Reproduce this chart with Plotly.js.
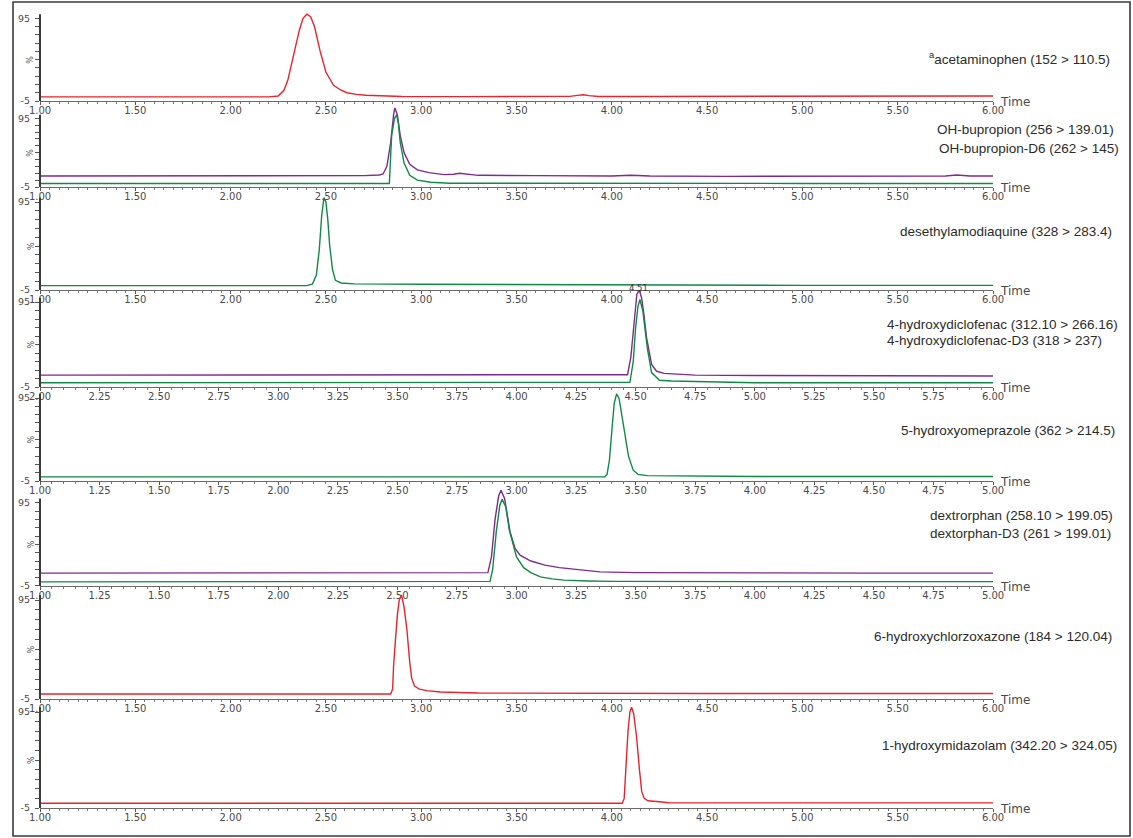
<!DOCTYPE html>
<html>
<head>
<meta charset="utf-8">
<script src="https://cdn.plot.ly/plotly-3.0.1.min.js"></script>
<style>
html,body{margin:0;padding:0;background:#fff;}
#chart{width:1133px;height:838px;}
</style>
</head>
<body>
<div id="chart"></div>
<script>
// ---------------- DATA ----------------
// Panel labels (compound, MRM transition)
const panelLabels = [
  ["<sup>a</sup>acetaminophen (152 > 110.5)"],
  ["OH-bupropion (256 > 139.01)", "OH-bupropion-D6 (262 > 145)"],
  ["desethylamodiaquine (328 > 283.4)"],
  ["4-hydroxydiclofenac (312.10 > 266.16)", "4-hydroxydiclofenac-D3 (318 > 237)"],
  ["5-hydroxyomeprazole (362 > 214.5)"],
  ["dextrorphan (258.10 > 199.05)", "dextorphan-D3 (261 > 199.01)"],
  ["6-hydroxychlorzoxazone (184 > 120.04)"],
  ["1-hydroxymidazolam (342.20 > 324.05)"]
];

// Tick labels
const xTickVals1to6 = [1.0,1.5,2.0,2.5,3.0,3.5,4.0,4.5,5.0,5.5,6.0];
const xTickText1to6 = ["1.00","1.50","2.00","2.50","3.00","3.50","4.00","4.50","5.00","5.50","6.00"];
const xTickVals2to6 = [2.0,2.25,2.5,2.75,3.0,3.25,3.5,3.75,4.0,4.25,4.5,4.75,5.0,5.25,5.5,5.75,6.0];
const xTickText2to6 = ["2.00","2.25","2.50","2.75","3.00","3.25","3.50","3.75","4.00","4.25","4.50","4.75","5.00","5.25","5.50","5.75","6.00"];
const xTickVals1to5 = [1.0,1.25,1.5,1.75,2.0,2.25,2.5,2.75,3.0,3.25,3.5,3.75,4.0,4.25,4.5,4.75,5.0];
const xTickText1to5 = ["1.00","1.25","1.50","1.75","2.00","2.25","2.50","2.75","3.00","3.25","3.50","3.75","4.00","4.25","4.50","4.75","5.00"];
const yTickVals = [-5,5,15,25,35,45,55,65,75,85,95];
const yTickText = ["-5"," "," "," "," "," "," "," "," "," ","95"];

// Panel 1: acetaminophen
const acetTime = [1.00,1.50,2.00,2.20,2.25,2.28,2.30,2.33,2.36,2.38,2.40,2.42,2.44,2.47,2.50,2.54,2.58,2.61,2.66,2.71,2.80,2.90,3.20,3.60,3.78,3.82,3.85,3.88,3.93,4.20,4.60,5.00,5.40,5.80,6.00];
const acetInt  = [0,0,0,0,1,8,20,50,80,95,100,97,85,55,30,14,8,5,3,2,1,0.5,0.3,0.3,0.6,1.8,2.5,1.5,0.5,0.5,0.8,1,1.2,1,1];

// Panel 2: OH-bupropion (purple) and OH-bupropion-D6 (green)
const ohbupTime = [1.00,1.50,2.00,2.50,2.70,2.78,2.80,2.82,2.84,2.855,2.862,2.875,2.89,2.91,2.94,2.98,3.04,3.12,3.17,3.20,3.24,3.30,3.60,4.00,4.10,4.20,4.60,5.00,5.40,5.75,5.81,5.88,6.00];
const ohbupInt  = [11,11,11,11,11.5,12.5,14,25,60,100,110,100,70,45,28,20,16,13,13.5,15,13.5,12,11.5,11,12,11,10.5,11,10.5,11,12.5,11,11];
const ohbupD6Time = [1.00,2.00,2.833,2.838,2.845,2.86,2.871,2.88,2.89,2.91,2.94,2.98,3.05,3.15,3.50,4.00,5.00,6.00];
const ohbupD6Int  = [0,0,0,30,70,95,100,88,60,30,12,5,2,0.5,0.3,0.2,0.2,0.2];

// Panel 3: desethylamodiaquine
const deaqTime = [1.00,2.00,2.40,2.43,2.45,2.465,2.478,2.49,2.50,2.51,2.52,2.535,2.55,2.58,2.65,3.00,3.50,4.00,5.00,6.00];
const deaqInt  = [0,0,0,2,12,40,80,100,95,75,45,18,6,3,2,1.5,1,0.5,0.3,0.3];

// Panel 4: 4-hydroxydiclofenac (purple) and -D3 (green)
const ohdTime = [2.00,3.00,4.00,4.40,4.466,4.48,4.495,4.505,4.515,4.525,4.535,4.546,4.567,4.588,4.62,4.68,4.75,5.00,5.50,6.00];
const ohdInt  = [9,9,9,9,9.5,30,80,104,109,100,80,53,21.5,13.5,11,10,9,8.5,8,8];
const ohdD3Time = [2.00,3.00,4.00,4.476,4.49,4.50,4.51,4.518,4.53,4.549,4.567,4.60,4.65,4.75,4.85,5.00,6.00];
const ohdD3Int  = [0,0,0,0.5,25,65,90,98,85,41,12,3,2,1.5,0.5,0,0];
const ohdApexLabel = "4.51";
const ohdApexTime = 4.51;

// Panel 5: 5-hydroxyomeprazole
const omeTime = [1.00,2.00,3.00,3.37,3.38,3.39,3.40,3.41,3.42,3.43,3.44,3.455,3.47,3.49,3.51,3.55,3.70,4.00,5.00];
const omeInt  = [0,0,0,0,3,20,55,88,100,95,78,50,25,8,3,1.5,1,0.5,0.5];

// Panel 6: dextrorphan (purple) and dextorphan-D3 (green)
const dexTime = [1.00,2.00,2.50,2.80,2.88,2.895,2.91,2.925,2.935,2.95,2.973,2.994,3.015,3.06,3.12,3.18,3.27,3.35,3.50,4.00,4.50,5.00];
const dexInt  = [10.5,10.5,10.5,10.5,11,30,75,103,110,100,60,40,32,25,20,17,14,12,11,10.5,10.5,10.5];
const dexD3Time = [1.00,2.00,2.80,2.889,2.90,2.915,2.93,2.94,2.955,2.97,3.00,3.03,3.06,3.10,3.15,3.20,3.30,3.40,4.00,5.00];
const dexD3Int  = [0,0,0,0.5,15,60,92,99,90,62,30,17,11,6,3.5,2,1,0.5,0.3,0.3];

// Panel 7: 6-hydroxychlorzoxazone
const chlTime = [1.00,2.00,2.84,2.85,2.855,2.865,2.875,2.885,2.897,2.91,2.925,2.94,2.95,2.965,2.99,3.03,3.10,3.30,3.60,4.50,6.00];
const chlInt  = [0,0,0,5,28,55,80,95,100,88,65,32,16,8,5,3.5,2,1,0.8,0.6,0.5];

// Panel 8: 1-hydroxymidazolam
const midTime = [1.00,2.00,3.00,4.055,4.065,4.075,4.085,4.095,4.104,4.115,4.13,4.145,4.157,4.17,4.19,4.25,4.30,5.00,6.00];
const midInt  = [0,0,0,0,5,40,75,95,100,93,69,35,12,5,2.5,1.5,0.5,0.3,0.3];

// ---------------- STYLE / LAYOUT ----------------
const W = 1133, H = 838;
const X0 = 40, X1 = 993;
const RED = '#e8232b', PURPLE = '#7f2b8e', GREEN = '#0e8a45';

// pixel geometry per panel: B = pixel of y=-5, s = px per unit, top = range top
const geom = [
  {B:101, s:0.827, top:102},
  {B:187, s:0.687, top:112},
  {B:290, s:0.880, top:102},
  {B:387, s:0.850, top:112},
  {B:481, s:0.830, top:102},
  {B:586, s:0.833, top:112},
  {B:699, s:0.990, top:102},
  {B:808, s:0.960, top:102}
];
const xSpec = [
  {range:[1,6], v:xTickVals1to6, t:xTickText1to6},
  {range:[1,6], v:xTickVals1to6, t:xTickText1to6},
  {range:[1,6], v:xTickVals1to6, t:xTickText1to6},
  {range:[2,6], v:xTickVals2to6, t:xTickText2to6},
  {range:[1,5], v:xTickVals1to5, t:xTickText1to5},
  {range:[1,5], v:xTickVals1to5, t:xTickText1to5},
  {range:[1,6], v:xTickVals1to6, t:xTickText1to6},
  {range:[1,6], v:xTickVals1to6, t:xTickText1to6}
];
const labelPos = [
  [{x:927,y:58}],
  [{x:935,y:129},{x:937,y:149}],
  [{x:898,y:231}],
  [{x:885,y:324},{x:885,y:341}],
  [{x:899,y:431}],
  [{x:928,y:515},{x:928,y:533}],
  [{x:872,y:636}],
  [{x:880,y:745}]
];

const series = [
  {p:1, x:acetTime, y:acetInt, c:RED},
  {p:2, x:ohbupTime, y:ohbupInt, c:PURPLE},
  {p:2, x:ohbupD6Time, y:ohbupD6Int, c:GREEN},
  {p:3, x:deaqTime, y:deaqInt, c:GREEN},
  {p:4, x:ohdTime, y:ohdInt, c:PURPLE},
  {p:4, x:ohdD3Time, y:ohdD3Int, c:GREEN},
  {p:5, x:omeTime, y:omeInt, c:GREEN},
  {p:6, x:dexTime, y:dexInt, c:PURPLE},
  {p:6, x:dexD3Time, y:dexD3Int, c:GREEN},
  {p:7, x:chlTime, y:chlInt, c:RED},
  {p:8, x:midTime, y:midInt, c:RED}
];

const traces = series.map(s => ({
  type:'scatter', mode:'lines', x:s.x, y:s.y,
  xaxis:'x'+(s.p===1?'':s.p), yaxis:'y'+(s.p===1?'':s.p),
  line:{color:s.c, width:1.4}, hoverinfo:'skip'
}));

const layout = {
  width:W, height:H,
  margin:{l:0,r:0,t:0,b:0},
  paper_bgcolor:'#fff', plot_bgcolor:'rgba(0,0,0,0)',
  showlegend:false,
  shapes:[], annotations:[]
};

const xTickFont = {family:'DejaVu Sans, sans-serif', size:10, color:'#4a4a4a'};
const yTickFont = {family:'DejaVu Sans, sans-serif', size:9.5, color:'#4a4a4a'};
const labelFont = {family:'Liberation Sans, Arial, sans-serif', size:13.5, color:'#2b2b2b'};

geom.forEach((g,i) => {
  const n = i+1, suf = n===1?'':String(n);
  const topPix = g.B - (g.top+5)*g.s;
  const dom = [1 - g.B/H, 1 - topPix/H];
  layout['xaxis'+suf] = {
    domain:[X0/W, X1/W], anchor:'y'+suf, range:xSpec[i].range,
    showgrid:false, zeroline:false, showline:true, linecolor:'#6a6a6a', linewidth:1,
    tickmode:'array', tickvals:xSpec[i].v, ticktext:xSpec[i].t,
    ticks:'outside', ticklen:3, tickcolor:'#555', tickwidth:1,
    minor:{tickmode:'linear', tick0:xSpec[i].range[0], dtick:0.05, ticks:'outside', ticklen:2, tickcolor:'#777', tickwidth:1},
    tickfont:xTickFont, ticklabelstandoff:-3, fixedrange:true
  };
  layout['yaxis'+suf] = {
    domain:dom, anchor:'x'+suf, range:[-5, g.top],
    showgrid:false, zeroline:false, showline:false,
    tickmode:'array', tickvals:yTickVals, ticktext:yTickText,
    ticks:'outside', ticklen:4, tickcolor:'#555', tickwidth:1,
    tickfont:yTickFont, ticklabelstandoff:3, fixedrange:true
  };
  // y axis line (-5 .. 100)
  layout.shapes.push({type:'line', xref:'paper', yref:'y'+suf, x0:X0/W, x1:X0/W, y0:-5, y1:100,
    line:{color:'#3a3a3a', width:2}});
  // % label
  layout.annotations.push({xref:'paper', yref:'y'+suf, x:31/W, y:45, text:'%', showarrow:false,
    textangle:-90, font:{family:'DejaVu Sans, sans-serif', size:8, color:'#555'}, xanchor:'center', yanchor:'middle'});
  // Time label
  layout.annotations.push({xref:'paper', yref:'paper', x:998/W, y:1-(g.B+1)/H, text:'Time', showarrow:false,
    font:{family:'DejaVu Sans, sans-serif', size:12, color:'#4a4a4a'}, xanchor:'left', yanchor:'middle'});
  // compound labels
  panelLabels[i].forEach((txt,j) => {
    const lp = labelPos[i][j];
    layout.annotations.push({xref:'paper', yref:'paper', x:lp.x/W, y:1-lp.y/H, text:txt, showarrow:false,
      font:labelFont, xanchor:'left', yanchor:'middle'});
  });
});

// apex label on panel 4
layout.annotations.push({xref:'x4', yref:'paper', x:ohdApexTime, y:1-288/H, text:ohdApexLabel, showarrow:false,
  font:{family:'DejaVu Sans, sans-serif', size:8.5, color:'#333'}, xanchor:'center', yanchor:'middle'});

// outer frame
layout.shapes.push({type:'rect', xref:'paper', yref:'paper', x0:13/W, x1:1130/W, y0:1-836/H, y1:1-2/H,
  line:{color:'#3a3a3a', width:1.6}, fillcolor:'rgba(0,0,0,0)'});

Plotly.newPlot('chart', traces, layout, {staticPlot:true, displayModeBar:false});
</script>
</body>
</html>
